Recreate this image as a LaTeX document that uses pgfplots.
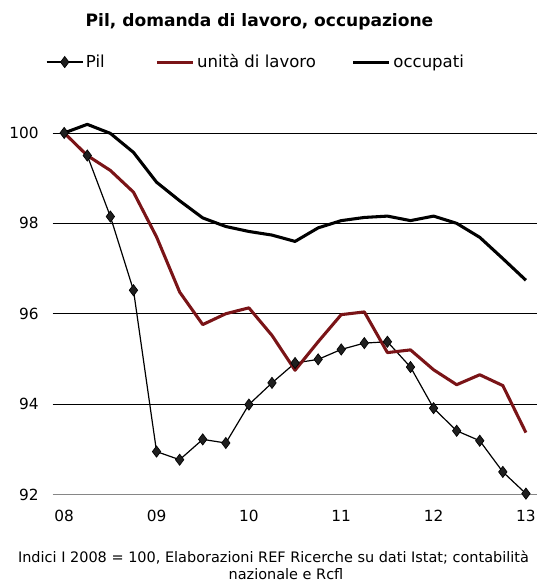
\documentclass[border=0pt]{standalone}
\usepackage{pgfplots}
\pgfplotsset{compat=1.18}
\usepackage{fontspec}
\setmainfont{DejaVu Sans}
\definecolor{darkred}{HTML}{7A1417}
\definecolor{axisgray}{HTML}{868686}

\pgfplotstableread{
q pil ul occ
0 100.00 100.00 100.00
1 99.50 99.50 100.19
2 98.15 99.17 99.99
3 96.52 98.69 99.57
4 92.95 97.70 98.91
5 92.77 96.48 98.50
6 93.22 95.76 98.12
7 93.14 96.00 97.93
8 93.99 96.13 97.82
9 94.47 95.52 97.74
10 94.91 94.75 97.60
11 94.99 95.38 97.90
12 95.21 95.98 98.06
13 95.35 96.04 98.13
14 95.38 95.14 98.16
15 94.82 95.20 98.06
16 93.91 94.76 98.16
17 93.41 94.43 98.00
18 93.19 94.65 97.69
19 92.50 94.41 97.22
20 92.02 93.37 96.74
}\datatable

\begin{document}
\begin{tikzpicture}
\path[use as bounding box] (-39.5pt,-67.1pt) rectangle (376pt,370.9pt);
\begin{axis}[
  at={(0pt,0pt)}, anchor=south west,
  scale only axis, width=363.6pt, height=271.2pt,
  xmin=-0.5, xmax=20.5, ymin=92, ymax=100,
  clip=false,
  axis x line*=bottom, axis y line*=left,
  x axis line style={draw=axisgray, line width=1.2pt, -},
  y axis line style={draw=none},
  xtick={0,4,8,12,16,20},
  xticklabels={08,09,10,11,12,13},
  major x tick style={draw=none},
  major y tick style={draw=none},
  extra x ticks={-0.5,3.5,7.5,11.5,15.5,19.5},
  extra x tick labels={},
  extra x tick style={major tick length=4.5pt, tick align=outside, tick style={draw=axisgray, line width=0.9pt}, grid=none},
  ytick={94,96,98,100},
  extra y ticks={92},
  extra y tick style={grid=none},
  ymajorgrids, grid style={black, line width=0.6pt},
  yticklabel style={anchor=east, xshift=-7pt, font=\fontsize{11.5}{13}\selectfont},
  xticklabel style={font=\fontsize{11.5}{13}\selectfont, yshift=-8pt},
  /pgf/number format/assume math mode=true,
  legend columns=3,
  legend style={at={(axis description cs:-0.0135,1.196)}, anchor=west,
    draw=none, fill=none, inner sep=0pt, outer sep=0pt,
    column sep=0pt, font=\fontsize{12.4}{14}\selectfont,
    nodes={inner xsep=2pt, inner ysep=1pt}},
  legend cell align=left,
  legend image code/.code={\draw[mark repeat=2,mark phase=2,#1] plot coordinates {(0pt,0pt) (13.5pt,0pt) (27pt,0pt)};},
]
\addplot[black, line width=0.9pt, mark=diamond*, mark size=4.2pt, mark options={fill=black!88, draw=black, line width=0.5pt}] table[x=q, y=pil] {\datatable};
\addlegendentry{\makebox[50pt][l]{Pil}}
\addplot[darkred, line width=2.3pt, line join=round] table[x=q, y=ul] {\datatable};
\addlegendentry{\makebox[114pt][l]{unità di lavoro}}
\addplot[black, line width=2.3pt, line join=round] table[x=q, y=occ] {\datatable};
\addlegendentry{occupati}
\end{axis}
\node[font=\bfseries\fontsize{12.8}{15}\selectfont] at (155.1pt,354.4pt) {Pil, domanda di lavoro, occupazione};
\node[font=\fontsize{10.85}{12.5}\selectfont] at (165.6pt,-47.6pt) {Indici I 2008 = 100, Elaborazioni REF Ricerche su dati Istat; contabilità};
\node[font=\fontsize{10.85}{12.5}\selectfont] at (175pt,-60pt) {nazionale e Rcfl};
\end{tikzpicture}
\end{document}
